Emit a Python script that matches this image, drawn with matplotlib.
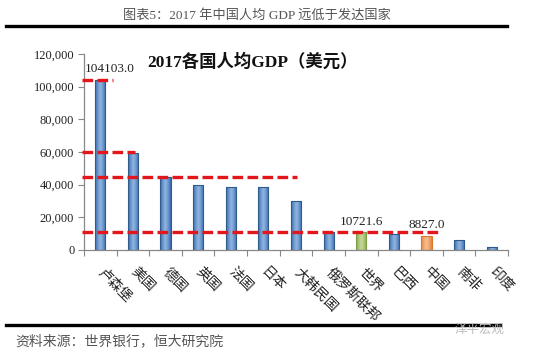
import matplotlib
matplotlib.use("Agg")
import matplotlib.pyplot as plt
import matplotlib.transforms as mtransforms
import numpy as np
from matplotlib.colors import LinearSegmentedColormap
from matplotlib.ticker import FuncFormatter

plt.rcParams["font.family"] = ["Liberation Serif", "Noto Sans CJK SC", "DejaVu Sans"]

# 2017 GDP per capita (USD)
countries = ["卢森堡", "美国", "德国", "英国", "法国", "日本", "大韩民国",
             "俄罗斯联邦", "世界", "巴西", "中国", "南非", "印度"]
gdp_pc = [104103.0, 59532, 44470, 39720, 38477, 38428, 29743,
          10743, 10721.6, 9812, 8827.0, 6161, 1940]
labelled = {0: "104103.0", 8: "10721.6", 10: "8827.0"}

# reference levels (red dashed) and how far right each one runs (category index)
ref_levels = [104103.0, 60000, 44470, 10900]
ref_ends = [0.39, 1.06, 6.03, 10.36]

# (edge, mid, outline) shades for the bar gradients
BLUE = ("#356AAE", "#8DB2DE", "#2E5A8C")
GREEN = ("#86A84A", "#C2D796", "#7E9C45")
ORANGE = ("#E4843A", "#F7BD90", "#D9782F")
RED = "#E3161B"

shades = [BLUE] * len(countries)
shades[countries.index("世界")] = GREEN
shades[countries.index("中国")] = ORANGE

fig = plt.figure(figsize=(5.5, 3.55), dpi=100)
ax = fig.add_axes([84 / 550, 1 - 250 / 355, (508 - 84) / 550, (250 - 54) / 355])

x = list(range(len(countries)))
bars = ax.bar(x, gdp_pc, width=0.31, color="none", edgecolor=[s[2] for s in shades],
              linewidth=0.8, zorder=2.5)
grad = np.abs(np.linspace(-1, 1, 64))[None, :] ** 1.3
for b, s in zip(bars, shades):
    cmap = LinearSegmentedColormap.from_list("g", [s[1], s[0]])
    x0, w, h = b.get_x(), b.get_width(), b.get_height()
    im = ax.imshow(grad, cmap=cmap, aspect="auto", extent=(x0, x0 + w, 0, h),
                   zorder=2, interpolation="bilinear")
    im.set_clip_path(b)

for lvl, end in zip(ref_levels, ref_ends):
    ax.plot([-0.55, end], [lvl, lvl], color=RED, lw=2.4, ls=(0, (3.2, 1.3)),
            clip_on=False, zorder=3)

for i, txt in labelled.items():
    dx = 0.3 if i == 0 else 0.0
    ax.text(i + dx, gdp_pc[i] + 3000, txt, ha="center", va="bottom",
            fontsize=9.5, color="#222222", family="Liberation Serif")

ax.set_xlim(-0.5, len(countries) - 0.5)
ax.set_ylim(0, 120000)
ax.set_yticks(range(0, 120001, 20000))
ax.yaxis.set_major_formatter(FuncFormatter(lambda v, p: f"{int(v):,}"))
ax.tick_params(axis="y", length=4, width=0.8, color="#888888", pad=3,
               labelsize=9, labelcolor="#222222")

ax.set_xticks([i - 0.5 for i in range(len(countries) + 1)])
ax.set_xticklabels([])
ax.tick_params(axis="x", length=4, width=0.8, color="#888888")

# rotated category labels, hanging from below the axis
lab_tf = mtransforms.blended_transform_factory(ax.transData, ax.transAxes) + \
    mtransforms.ScaledTranslation(5 / 100, -15 / 100, fig.dpi_scale_trans)
for i, name in enumerate(countries):
    ax.text(i, 0, name, transform=lab_tf, rotation=-45, rotation_mode="anchor",
            ha="left", va="top", fontsize=10, color="#222222",
            family="Noto Sans CJK SC")

for side in ("top", "right"):
    ax.spines[side].set_visible(False)
for side in ("left", "bottom"):
    ax.spines[side].set_color("#888888")
    ax.spines[side].set_linewidth(0.9)

fig.text(253 / 550, 1 - 62 / 355, "2017各国人均GDP（美元）",
         ha="center", va="center", fontsize=12.5, fontweight="bold", color="#111111")
fig.text(257 / 550, 1 - 15 / 355, "图表5：2017 年中国人均 GDP 远低于发达国家",
         ha="center", va="center", fontsize=9.5, color="#555555")
fig.add_artist(plt.Line2D([6 / 550, 507 / 550], [1 - 26 / 355] * 2,
                          color="black", lw=2.4, transform=fig.transFigure))
fig.add_artist(plt.Line2D([6 / 550, 500 / 550], [1 - 325 / 355] * 2,
                          color="black", lw=2.4, transform=fig.transFigure))
fig.text(15 / 550, 1 - 341 / 355, "资料来源：世界银行，恒大研究院",
         ha="left", va="center", fontsize=10, color="#555555", style="italic",
         family="Noto Sans CJK SC")
fig.text(505 / 550, 1 - 329 / 355, "泽平宏观", ha="right", va="center",
         fontsize=9, color="#bbbbbb", family="Noto Sans CJK SC")

fig.savefig("out.png", dpi=100, facecolor="white")
